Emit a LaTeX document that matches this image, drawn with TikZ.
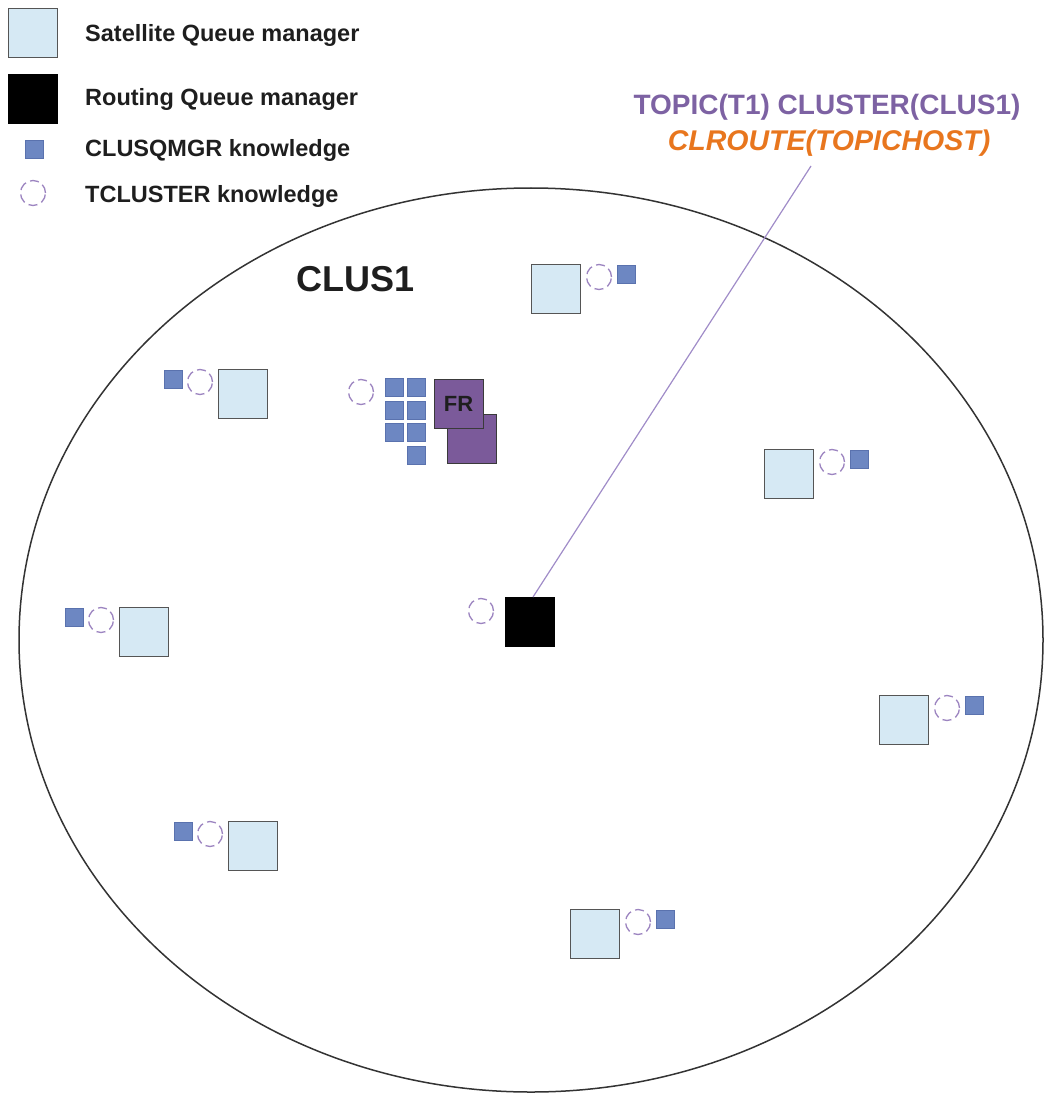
\documentclass[tikz,border=0pt]{standalone}
\usepackage{fontspec}
\setmainfont{Liberation Sans}
\definecolor{satblue}{HTML}{D6E9F4}
\definecolor{satedge}{HTML}{555555}
\definecolor{knowblue}{HTML}{6D87C2}
\definecolor{knowedge}{HTML}{5A72AE}
\definecolor{tclpurple}{HTML}{9C84C0}
\definecolor{frpurple}{HTML}{7B5A9A}
\definecolor{frline}{HTML}{3A3A3A}
\definecolor{topicpurple}{HTML}{7D62A3}
\definecolor{routeorange}{HTML}{E8761E}
\definecolor{linepurple}{HTML}{A08CC8}
\definecolor{txt}{HTML}{1E1E1E}
\tikzset{
  satbox/.style={draw=satedge, fill=satblue, line width=1.9pt, minimum size=49pt, inner sep=0pt},
  rqmbox/.style={draw=black, fill=black, line width=1pt, minimum size=49pt, inner sep=0pt},
  knowbox/.style={draw=knowedge, fill=knowblue, line width=0.6pt, minimum size=18pt, inner sep=0pt},
  tclcirc/.style={circle, draw=tclpurple, line width=1.3pt, dash pattern=on 9pt off 4.5pt, minimum size=25pt, inner sep=0pt},
  frbox/.style={draw=frline, fill=frpurple, line width=1pt, minimum size=49pt, inner sep=0pt},
  legtext/.style={anchor=base west, inner sep=0pt, text=txt, font=\fontsize{23.5}{27}\selectfont\bfseries},
  topicline/.style={draw=linepurple, line width=1.2pt}
}
\begin{document}
\begin{tikzpicture}[x=1pt, y=-1pt]
\useasboundingbox (0,0) rectangle (1047,1094);
% cluster ellipse
\draw[line width=1.5pt, draw=black!80] (531,640) ellipse [x radius=512, y radius=452];
% legend
\node[satbox] (lsat) at (33,33) {};
\node[rqmbox] (lrqm) at (33,99) {};
\node[knowbox] (lknow) at (34,149) {};
\node[tclcirc] (ltcl) at (33,193) {};
\node[legtext] (tsat) at (85,42) {Satellite Queue manager};
\node[legtext] (trqm) at (85,106) {Routing Queue manager};
\node[legtext] (tknow) at (85,157) {CLUSQMGR knowledge};
\node[legtext] (ttcl) at (85,203) {TCLUSTER knowledge};
% cluster name
\node[anchor=base, inner sep=0pt, text=txt, font=\fontsize{36}{40}\selectfont\bfseries] (clus) at (356,291) {CLUS1};
% topic label
\node[anchor=base, inner sep=0pt, text=topicpurple, font=\fontsize{28}{32}\selectfont\bfseries] (topic) at (827,115) {TOPIC(T1) CLUSTER(CLUS1)};
\node[anchor=base, inner sep=0pt, text=routeorange, font=\fontsize{28.5}{32}\selectfont\bfseries\itshape] (route) at (829,151) {CLROUTE(TOPICHOST)};
% satellites, right side knowledge
\foreach \n/\bx/\by in {a/531/264, b/764/449, c/879/695, d/570/909}{
  \node[satbox] (sat\n) at (\bx+25,\by+25) {};
  \node[tclcirc] (tc\n) at (\bx+68,\by+13) {};
  \node[knowbox] (kn\n) at (\bx+95,\by+10) {};
}
% satellites, left side knowledge
\foreach \n/\bx/\by in {e/218/369, f/119/607, g/228/821}{
  \node[satbox] (sat\n) at (\bx+25,\by+25) {};
  \node[tclcirc] (tc\n) at (\bx-18,\by+13) {};
  \node[knowbox] (kn\n) at (\bx-45,\by+10) {};
}
% full repository cluster
\node[tclcirc] (frtc) at (361,392) {};
\foreach \r/\ry in {1/387, 2/410, 3/432}{
  \node[knowbox] (frk\r a) at (394,\ry) {};
  \node[knowbox] (frk\r b) at (416,\ry) {};
}
\node[knowbox] (frk4b) at (416,455) {};
\node[frbox] (frback) at (471.5,438.5) {};
\node[frbox, text=txt, font=\fontsize{22}{26}\selectfont\bfseries] (frfront) at (458.5,403.5) {FR};
% routing queue manager
\node[rqmbox] (rqm) at (530,622) {};
\node[tclcirc] (rqmtc) at (481,611) {};
\coordinate (lblpt) at (811,166);
\draw[topicline] ([xshift=3pt]rqm.north) -- (lblpt);
\end{tikzpicture}
\end{document}
